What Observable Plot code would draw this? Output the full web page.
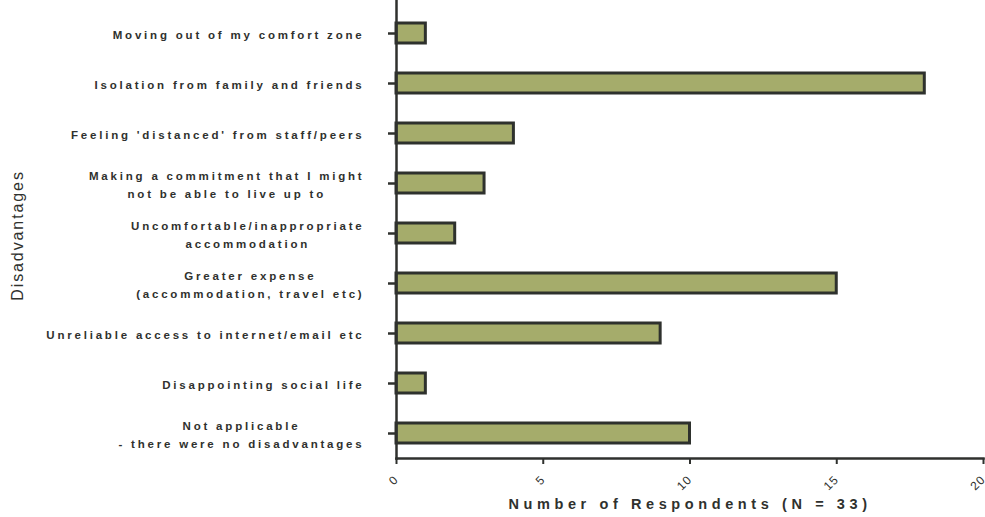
<!DOCTYPE html>
<html>
<head>
<meta charset="utf-8">
<script src="https://cdn.jsdelivr.net/npm/d3@7"></script>
<script src="https://cdn.jsdelivr.net/npm/@observablehq/plot@0.6"></script>
<style>
  body { margin: 0; background: #fff; }
  svg { font-family: "Liberation Sans", Arial, sans-serif; }
  [aria-label="y-axis tick label"] text { letter-spacing: 2.8px; font-weight: bold; font-size: 11.5px; }
  [aria-label="x-axis tick label"] text { letter-spacing: 1px; font-size: 12px; }
</style>
</head>
<body>
<div id="chart"></div>
<script>
const categories = [
  "Moving out of my comfort zone",
  "Isolation from family and friends",
  "Feeling 'distanced' from staff/peers",
  "Making a commitment that I might\nnot be able to live up to",
  "Uncomfortable/inappropriate\naccommodation",
  "Greater expense\n(accommodation, travel etc)",
  "Unreliable access to internet/email etc",
  "Disappointing social life",
  "Not applicable\n- there were no disadvantages"
];
const respondents = [1, 18, 4, 3, 2, 15, 9, 1, 10];
const xTicks = [0, 5, 10, 15, 20];
const xTitle = "Number of Respondents (N = 33)";
const yTitle = "Disadvantages";

const data = categories.map((c, i) => ({category: c, value: respondents[i]}));
const ink = "#2f312e";

const chart = Plot.plot({
  width: 985,
  height: 517,
  marginLeft: 396,
  marginRight: 2,
  marginTop: 0,
  marginBottom: 59,
  style: {fontFamily: "'Liberation Sans', Arial, sans-serif", color: ink, background: "#fff"},
  x: {domain: [0, 20], ticks: xTicks},
  y: {domain: categories, range: [8, 458], paddingInner: 0.6, paddingOuter: 0.3},
  marks: [
    Plot.barX(data, {x: "value", y: "category", fill: "#a5ac6b", stroke: "#2e312d", strokeWidth: 3}),
    Plot.frame({anchor: "left", stroke: ink, strokeWidth: 2.5}),
    Plot.frame({anchor: "bottom", stroke: ink, strokeWidth: 2.5}),
    Plot.axisY({tickSize: 8, tickPadding: 24, label: null, stroke: ink, strokeWidth: 2.5, lineHeight: 1.5}),
    Plot.axisX({ticks: xTicks, tickSize: 6, tickPadding: 13, tickRotate: -45, label: null, stroke: ink, strokeWidth: 2}),
    Plot.text([xTitle], {frameAnchor: "bottom", dy: 50, text: d => d, fontSize: 14.5, fontWeight: "bold", fill: ink}),
    Plot.text([yTitle], {frameAnchor: "left", dx: -379, dy: 6, rotate: -90, textAnchor: "middle", text: d => d, fontSize: 16, fill: ink})
  ]
});
document.getElementById("chart").appendChild(chart);

// Center multi-line category labels as text blocks, right-aligned with the single-line labels
d3.select(chart).selectAll('[aria-label="y-axis tick label"] text').each(function() {
  const tspans = this.querySelectorAll("tspan");
  if (tspans.length > 1) {
    let w = 0;
    tspans.forEach(t => { w = Math.max(w, t.getComputedTextLength()); });
    this.setAttribute("text-anchor", "middle");
    tspans.forEach(t => t.setAttribute("x", -w / 2));
  }
});
d3.select(chart).selectAll("text").filter(function() { return this.textContent === xTitle; }).style("letter-spacing", "4.6px");
d3.select(chart).selectAll("text").filter(function() { return this.textContent === yTitle; }).style("letter-spacing", "1.9px");
</script>
</body>
</html>
